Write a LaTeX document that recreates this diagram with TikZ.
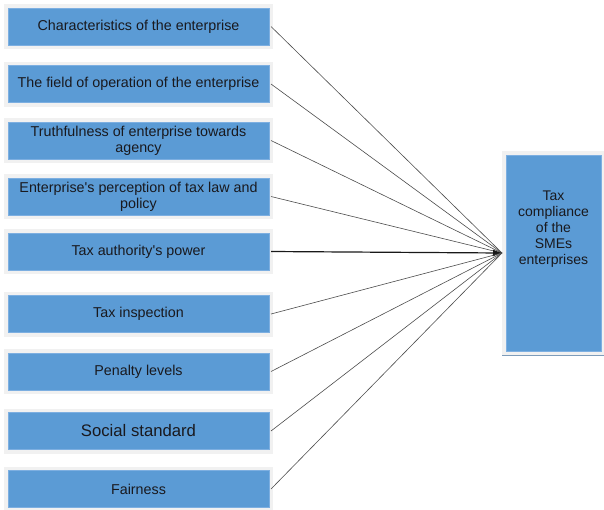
\documentclass[tikz,border=0pt]{standalone}
\usepackage{fontspec}
\setmainfont{Liberation Sans}
\usetikzlibrary{arrows.meta}
\definecolor{boxblue}{RGB}{91,155,213}
\definecolor{edgeblue}{RGB}{125,175,225}
\definecolor{framegray}{RGB}{241,241,241}
\definecolor{textdark}{RGB}{25,25,30}
\begin{document}
\begin{tikzpicture}
[x=1pt,y=-1pt,
  factordecorate/.style={shape=rectangle,minimum width=261pt,minimum height=37pt,
    inner sep=2pt,outer sep=2pt,align=center,text=textdark,
    font=\fontsize{14.3}{16}\selectfont,
    preaction={draw=framegray,line width=8pt},fill=boxblue,draw=edgeblue,line width=0.6pt},
  targetdecorate/.style={shape=rectangle,minimum width=95pt,minimum height=196pt,
    inner sep=0pt,outer sep=4pt,
    preaction={draw=framegray,line width=8pt},fill=boxblue,draw=edgeblue,line width=0.6pt},
  linkdecorate/.style={-,draw=black!70,line width=0.6pt}]
\useasboundingbox (0,0) rectangle (604,509);
% factors on the left
\node (f1) at (138.5,26.5) [factordecorate] {Characteristics of the enterprise};
\node (f2) at (138.5,84) [factordecorate] {The field of operation of the enterprise};
\node (f3) at (138.5,140.5) [factordecorate] {Truthfulness of enterprise towards\\agency};
\node (f4) at (138.5,196.5) [factordecorate] {Enterprise\textquotesingle s perception of tax law and\\policy};
\node (f5) at (138.5,251.5) [factordecorate] {Tax authority\textquotesingle s power};
\node (f6) at (138.5,314) [factordecorate] {Tax inspection};
\node (f7) at (138.5,371.5) [factordecorate] {Penalty levels};
\node (f8) at (138.5,431) [factordecorate,font=\fontsize{16.7}{19}\selectfont] {Social standard};
\node (f9) at (138.5,489) [factordecorate] {Fairness};
% tax compliance box
\node (tc) at (553.5,253) [targetdecorate] {};
\node (tclabel) at (553.5,229) [align=center,text=textdark,font=\fontsize{14}{16}\selectfont] {Tax\\compliance\\of the\\SMEs\\enterprises};
\draw[draw=edgeblue!60!gray,line width=1pt] (tc.south west) -- (tc.south east);
% links
\path
(f1.east) edge[linkdecorate] (tc.west)
(f2.east) edge[linkdecorate] (tc.west)
(f3.east) edge[linkdecorate] (tc.west)
(f4.east) edge[linkdecorate] (tc.west)
(f5.east) edge[linkdecorate,-{Latex[length=9pt,width=7pt]},draw=black!90,line width=1.2pt] (tc.west)
(f6.east) edge[linkdecorate] (tc.west)
(f7.east) edge[linkdecorate] (tc.west)
(f8.east) edge[linkdecorate] (tc.west)
(f9.east) edge[linkdecorate] (tc.west);
\end{tikzpicture}
\end{document}
